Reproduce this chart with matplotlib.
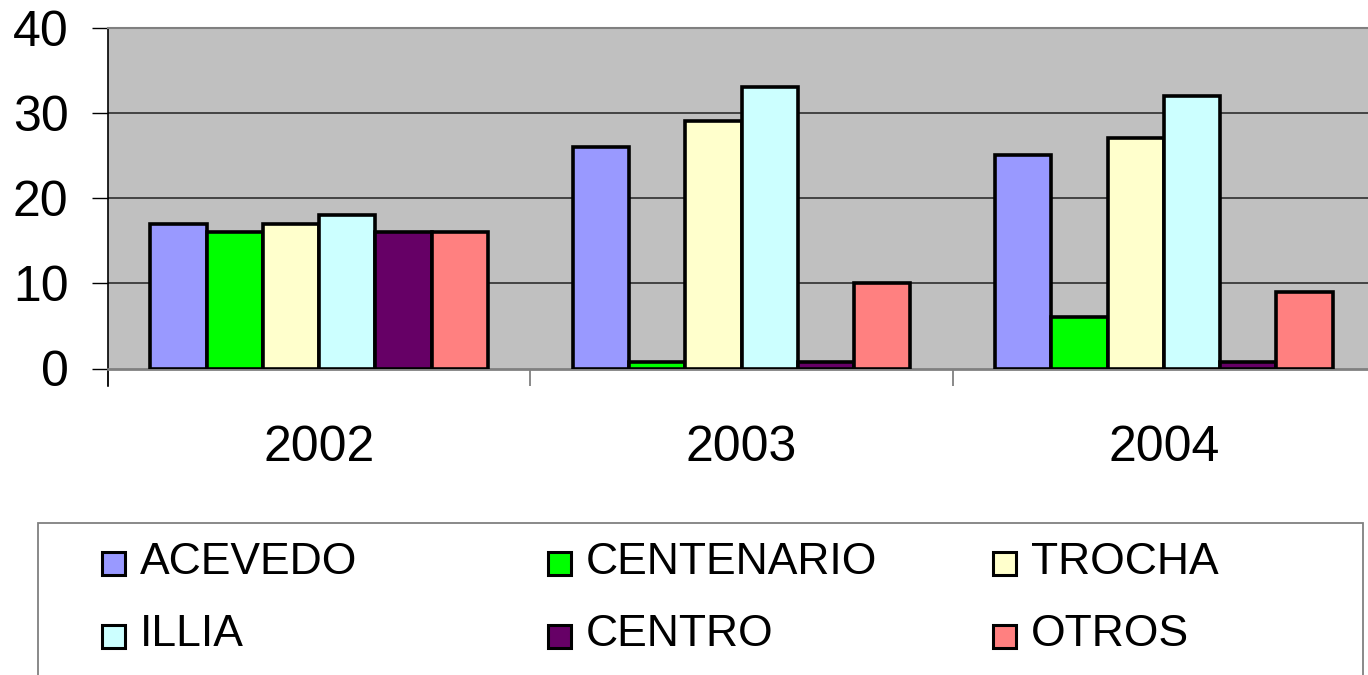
import matplotlib
matplotlib.use("Agg")
import matplotlib.pyplot as plt
import numpy as np
from matplotlib.patches import Rectangle

years = ["2002", "2003", "2004"]
series = ["ACEVEDO", "CENTENARIO", "TROCHA", "ILLIA", "CENTRO", "OTROS"]
acevedo = [17, 26, 25]
centenario = [16, 0.8, 6]
trocha = [17, 29, 27]
illia = [18, 33, 32]
centro = [16, 0.8, 0.8]
otros = [16, 10, 9]
yticks = [0, 10, 20, 30, 40]

values = [acevedo, centenario, trocha, illia, centro, otros]
colors = ["#9999FF", "#00FF00", "#FFFFCC", "#CCFFFF", "#660066", "#FF8080"]

plt.rcParams['font.family'] = ['Liberation Sans', 'DejaVu Sans']

W, H = 1368, 675
fig = plt.figure(figsize=(W / 100, H / 100), dpi=100)

x0, x1 = 108, 1375
y_top, y_bot = 27.5, 368.5
ax = fig.add_axes([x0 / W, 1 - y_bot / H, (x1 - x0) / W, (y_bot - y_top) / H])
ax.set_facecolor("#C0C0C0")
ax.set_xlim(0, 3)
ax.set_ylim(0, 40)

n = len(series)
bw = 0.8 / n
centers = np.arange(len(years)) + 0.5
for i, (vals, c) in enumerate(zip(values, colors)):
    ax.bar(centers + (i - (n - 1) / 2) * bw, vals, width=bw, color=c,
           edgecolor="black", linewidth=2.6, zorder=3)

ax.set_yticks(yticks)
ax.set_yticklabels([str(t) for t in yticks], fontsize=36)
ax.tick_params(axis='y', length=11.5, width=1, color='black', pad=17)
for t in [10, 20, 30]:
    ax.axhline(t, color="#222222", lw=1.1, zorder=1)

ax.set_xticks([0, 1, 2, 3])
ax.set_xticklabels([])
ax.tick_params(axis='x', which='major', length=12, width=1.3, color='#808080')
ax.set_xticks(centers, minor=True)
ax.set_xticklabels(years, minor=True, fontsize=36)
ax.tick_params(axis='x', which='minor', length=0, pad=41)

for s in ['top', 'right']:
    ax.spines[s].set_color('#808080')
    ax.spines[s].set_linewidth(1.5)
ax.spines['bottom'].set_color('#808080')
ax.spines['bottom'].set_linewidth(2)
ax.spines['left'].set_color('black')
ax.spines['left'].set_linewidth(1.2)
ax.plot([0, 0], [0, -0.05], transform=ax.transAxes, color='black', lw=1.2, clip_on=False)

lg = fig.add_axes([0, 0, 1, 1])
lg.set_xlim(0, W)
lg.set_ylim(H, 0)
lg.axis('off')
lg.add_patch(Rectangle((38, 523), 1363 - 38, 200, facecolor='white',
                       edgecolor='#808080', lw=1.3, clip_on=False))
col_x = [102, 548, 993]
row_y = [563, 636]
for k, (name, c) in enumerate(zip(series, colors)):
    r, cidx = divmod(k, 3)
    mx, my = col_x[cidx], row_y[r]
    lg.add_patch(Rectangle((mx, my - 11.5), 23, 23, facecolor=c, edgecolor='black', lw=2.2))
    lg.text(mx + 38, my - 1, name, fontsize=32, va='center', ha='left')

fig.savefig("out.png", dpi=100)
